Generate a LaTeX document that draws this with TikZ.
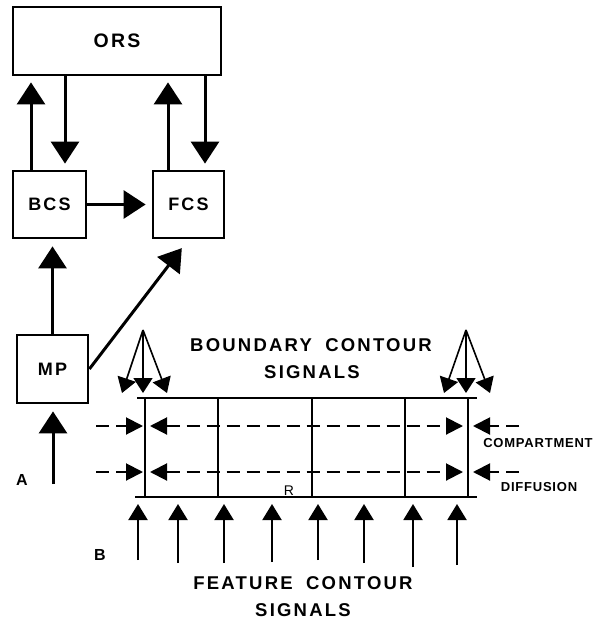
\documentclass[tikz,border=0pt]{standalone}
\usepackage{fontspec}
\setmainfont{Liberation Sans}
\newfontfamily\spaced[LetterSpace=12]{Liberation Sans}
\newfontfamily\spacedS[LetterSpace=6]{Liberation Sans}
\usetikzlibrary{arrows.meta,calc}
\begin{document}
\begin{tikzpicture}[x=1pt,y=-1pt,
  box/.style={draw, line width=2.8pt, inner sep=0pt, font=\spaced\bfseries\fontsize{18}{20}\selectfont},
  big/.style={line width=3pt, -{Triangle[length=22pt,width=28pt]}},
  fan/.style={line width=1.6pt, -{Triangle[length=15pt,width=19pt]}},
  dsh/.style={line width=2pt, dash pattern=on 13pt off 7pt, -{Triangle[length=17pt,width=17pt]}},
  dshb/.style={line width=2pt, dash pattern=on 13pt off 7pt, {Triangle[length=17pt,width=17pt]}-{Triangle[length=17pt,width=17pt]}},
  fsig/.style={line width=2pt, -{Triangle[length=16pt,width=19pt]}},
  rail/.style={line width=2pt},
  wall/.style={line width=1.5pt},
  title/.style={font=\spaced\bfseries\fontsize{18.5}{20}\selectfont, inner sep=0pt},
  side/.style={font=\spacedS\bfseries\fontsize{13}{15}\selectfont, inner sep=0pt},
  lbl/.style={font=\bfseries\fontsize{16}{18}\selectfont, inner sep=0pt}]
\useasboundingbox (0,0) rectangle (609,623);

% boxes
\node[box, minimum width=208pt, minimum height=68pt, font=\spaced\bfseries\fontsize{19.5}{21}\selectfont] (ors) at (117,41) {ORS};
\node[box, minimum width=73pt, minimum height=67pt] (bcs) at (49.5,204.5) {BCS};
\node[box, minimum width=71pt, minimum height=67pt] (fcs) at (188.5,204.5) {FCS};
\node[box, minimum width=71pt, minimum height=68pt] (mp) at (52.5,369) {MP};

% connectors
\draw[big, shorten >=6pt] ($(bcs.north)+(-18.5,0)$) -- ($(bcs.north |- ors.south)+(-18.5,0)$);
\draw[big, shorten >=6pt] ($(bcs.north |- ors.south)+(15.5,0)$) -- ($(bcs.north)+(15.5,0)$);
\draw[big, shorten >=6pt] ($(fcs.north)+(-20.5,0)$) -- ($(fcs.north |- ors.south)+(-20.5,0)$);
\draw[big, shorten >=6pt] ($(fcs.north |- ors.south)+(16.5,0)$) -- ($(fcs.north)+(16.5,0)$);
\draw[big, shorten >=6pt] (bcs.east) -- (fcs.west);
\draw[big, shorten >=7pt] (mp.north) -- (mp.north |- bcs.south);
\draw[big, shorten >=11pt] (mp.east) -- (fcs.south);
\coordinate (ain) at (53,484);
\draw[big, shorten >=7pt] (ain) -- (ain |- mp.south);

\node[lbl] (la) at (22,480) {A};
\node[lbl] (lb) at (100,555) {B};

% strip
\coordinate (tl) at (137,398);
\coordinate (tr) at (477,398);
\coordinate (bl) at (135,497);
\coordinate (br) at (477,497);
\draw[rail] (tl) -- (tr);
\draw[rail] (bl) -- (br);
\foreach \x in {145,218,312,405,468} \draw[wall] (\x,398) -- (\x,497);

% boundary fans
\coordinate (apL) at (143,330);
\coordinate (apR) at (466,330);
\foreach \d in {-21,0,24} \draw[fan] (apL) -- ($(apL)+(\d,63)$);
\foreach \d in {-22,0,24} \draw[fan] (apR) -- ($(apR)+(\d,63)$);

% diffusion arrows
\foreach \y in {426,472} {
  \draw[dsh] (96,\y) -- (143,\y);
  \draw[dshb] (150,\y) -- (463,\y);
  \draw[dsh] (519,\y) -- (473,\y);
}

\node[side] (comp) at (538,443) {COMPARTMENT};
\node[side] (diff) at (539,487) {DIFFUSION};
\node[font=\fontsize{14}{16}\selectfont, inner sep=0pt] (r) at (289,491) {R};

% feature signals
\foreach \x/\t in {138/560,178/563,224/563,272/562,318/560,364/563,413/567,457/565}
  \draw[fsig, shorten >=7pt] (\x,\t) -- (\x,497);

% titles
\node[title] (bc1) at (311,345) {BOUNDARY\hspace{6pt} CONTOUR};
\node[title] (bc2) at (312,372) {SIGNALS};
\node[title] (fc1) at (303,583) {FEATURE\hspace{6pt} CONTOUR};
\node[title] (fc2) at (303,610) {SIGNALS};
\end{tikzpicture}
\end{document}
